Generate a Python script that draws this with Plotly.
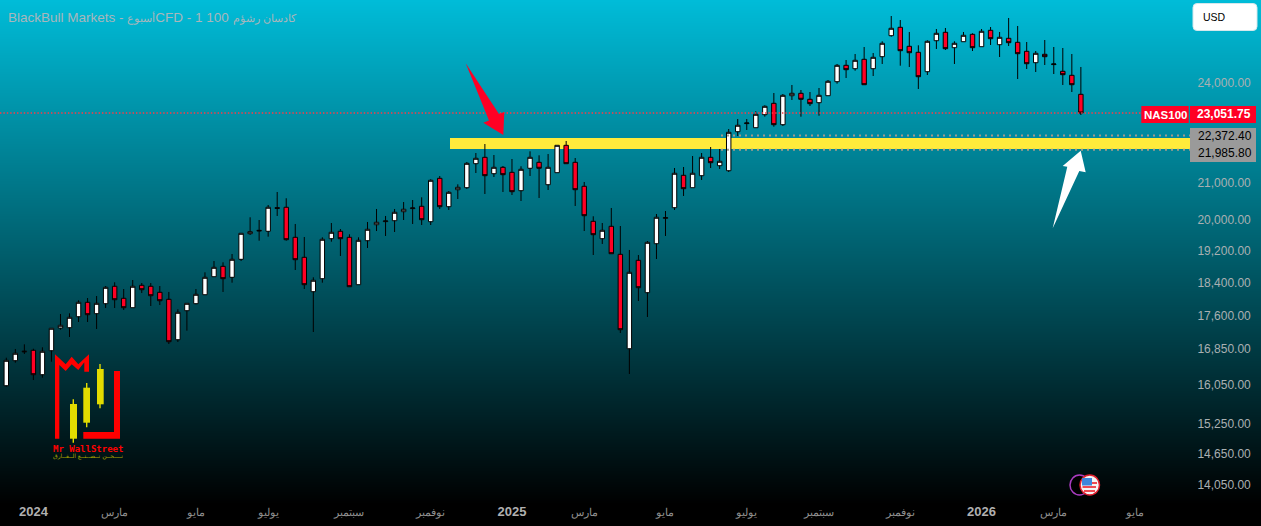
"""NAS100 weekly candles with a yellow support zone, dark teal gradient."""

import math

import numpy as np
import pandas as pd
import plotly.graph_objects as go

W, H = 1261, 526
PLOT_RIGHT, PLOT_BOTTOM = 1190, 497

opens = [
    16037, 16580, 16775, 16811, 16274, 16802, 17317, 17324, 17579, 17919, 17650, 17886, 18305, 18015, 17791, 18329, 18305, 18159, 17991, 17049,
    17720, 17886, 18101, 18540, 18798, 18525, 18974, 19632, 19702, 19695, 20323, 20334, 19538, 19025, 18174, 18491, 19502, 19695, 19538, 18344,
    19450, 19868, 19950, 19974, 20215, 20298, 20361, 19948, 21133, 20350, 20815, 20871, 21548, 21732, 21263, 21445, 21303, 20788, 21417, 21588,
    20954, 21292, 22082, 21588, 20910, 19958, 19502, 19826, 19101, 16846, 18949, 18150, 19372, 20038, 20323, 21218, 20871, 21207, 21732, 21491,
    21348, 22485, 22729, 22605, 23000, 23351, 22696, 23588, 23664, 23476, 23370, 23588, 24032, 24562, 24451, 24759, 24451, 24845, 25549, 25836,
    25191, 24991, 24354, 25379, 25665, 25144, 25346, 25596, 25178, 25733, 25245, 25460, 25325, 25024, 24647, 24924, 24585, 24367, 24237, 23632,
]
highs = [
    16646, 16840, 16945, 16846, 16878, 17310, 17642, 17659, 17967, 18022, 18070, 18312, 18403, 18239, 18459, 18385, 18385, 18312, 18167, 17753,
    17895, 18239, 18649, 18931, 18899, 19109, 19642, 20065, 19993, 20396, 20752, 20579, 19887, 19546, 18525, 19538, 19913, 19755, 19616, 19538,
    19940, 20288, 20100, 20288, 20477, 20532, 20606, 21105, 21198, 20779, 20965, 21597, 21857, 22120, 21799, 21482, 21683, 21474, 21906, 21790,
    21828, 22082, 22209, 21712, 21030, 20092, 19913, 20315, 19834, 19211, 19083, 19442, 20153, 20234, 21425, 21454, 21770, 21857, 22032, 21974,
    22566, 22868, 22868, 23104, 23289, 23673, 23642, 23927, 23768, 23705, 23831, 24086, 24605, 24736, 24934, 25167, 24967, 25359, 26227, 26088,
    25675, 25224, 25393, 25777, 25812, 25359, 25675, 25630, 25777, 25846, 25675, 26158, 25881, 25335, 25034, 25403, 25167, 25134, 24934, 24507,
]
lows = [
    16016, 16536, 16728, 16159, 16209, 16558, 17278, 17111, 17456, 17456, 17294, 17784, 17784, 17737, 17791, 18142, 17831, 17855, 16952, 16997,
    17255, 17872, 18101, 18540, 18167, 18393, 18931, 19598, 19450, 19554, 20100, 19450, 18706, 18239, 17225, 18393, 19424, 19058, 18295, 18344,
    19262, 19702, 19572, 19676, 19993, 19887, 19860, 19860, 20288, 20261, 20559, 20835, 21283, 20697, 21170, 20752, 20669, 20505, 21198, 20587,
    20807, 21292, 21548, 20369, 19702, 19083, 19365, 19116, 17202, 16289, 17950, 17572, 18982, 19572, 20261, 20642, 20871, 21086, 21425, 21397,
    21311, 22357, 22536, 22605, 22939, 22635, 22656, 23454, 22939, 23267, 22969, 23588, 23968, 24151, 24386, 23936, 24215, 24605, 25515, 24549,
    24507, 23800, 24247, 25101, 25067, 24605, 25346, 25034, 25178, 25235, 24835, 25201, 24118, 24441, 24344, 24572, 24279, 23927, 23705, 22990,
]
closes = [
    16588, 16744, 16788, 16274, 16788, 17310, 17379, 17565, 17919, 17626, 17895, 18280, 17981, 17791, 18305, 18222, 18077, 17957, 17004, 17682,
    17895, 18111, 18525, 18773, 18491, 18974, 19642, 19684, 19718, 20334, 20307, 19476, 18964, 18344, 18452, 19486, 19668, 19502, 18295, 19460,
    19747, 19932, 19966, 20199, 20280, 20315, 20001, 21077, 20350, 20743, 20882, 21559, 21703, 21207, 21445, 21235, 20760, 21388, 21732, 21417,
    21445, 22082, 21548, 20815, 20108, 19606, 19721, 19116, 17278, 18649, 18271, 19408, 20065, 20054, 21275, 20843, 21275, 21732, 21577, 21617,
    22467, 22678, 22747, 23012, 23258, 22696, 23601, 23664, 23476, 23339, 23601, 24045, 24562, 24419, 24726, 23936, 24825, 25292, 25802, 25044,
    24977, 24192, 25359, 25630, 25111, 25292, 25562, 25144, 25699, 25447, 25494, 25312, 24944, 24614, 24957, 24845, 24605, 24257, 23936, 23051.75,
]
dates = pd.date_range("2023-12-11", periods=len(opens), freq="7D")

price_ticks = [24000, 21000, 20000, 19200, 18400, 17600, 16850, 16050, 15250, 14650, 14050]
date_ticks = [
    "2024-01-01", "2024-03-04", "2024-05-06", "2024-07-01", "2024-09-02", "2024-11-04", "2025-01-06", "2025-03-03",
    "2025-05-05", "2025-07-07", "2025-09-01", "2025-11-03", "2026-01-05", "2026-03-02", "2026-05-04",
]
date_labels = [
    "2024", "مارس", "مايو", "يوليو", "سبتمبر", "نوفمبر", "2025", "مارس",
    "مايو", "يوليو", "سبتمبر", "نوفمبر", "2026", "مارس", "مايو",
]

LAST_PRICE = 23051.75
ZONE_HIGH, ZONE_LOW = 22372.40, 21985.80

AR = "<span style='font-size:11px'>{}</span>"
TITLE = "BlackBull Markets - " + AR.format("أسبوع") + "CFD - 1 100 " + AR.format("كادسان رشؤم")
RED = "#ff0024"
YELLOW = "#ffeb3b"
LOGO_YELLOW = "#e2dc00"
FONT = "Liberation Sans"


def px(x):
    return x / W


def py(y):
    return 1 - y / H


def poly(points, color, **kw):
    path = "M " + " L ".join(f"{px(x):.5f} {py(y):.5f}" for x, y in points) + " Z"
    return dict(type="path", xref="paper", yref="paper", path=path, fillcolor=color, line_width=0, **kw)


def rect(x0, y0, x1, y1, color, **kw):
    return dict(type="rect", xref="paper", yref="paper", x0=px(x0), x1=px(x1), y0=py(y0), y1=py(y1),
                fillcolor=color, line_width=0, **kw)


def label(x, y, text, color="black", size=12, anchor="center", family=FONT):
    return dict(xref="paper", yref="paper", x=px(x), y=py(y), text=text, showarrow=False, xanchor=anchor,
                yanchor="middle", font=dict(family=family, size=size, color=color))


def x_at(pixel):
    # candle 0 sits at x=6.3, 9.03 px per week
    return dates[0] + pd.Timedelta(days=(pixel - 6.3) / 9.03 * 7)


# Background: one heatmap row per pixel on its own full-figure axes
rows = np.arange(H)
background = go.Heatmap(
    z=rows.reshape(-1, 1), x=[0], y=rows, xaxis="x", yaxis="y", showscale=False, hoverinfo="skip",
    zmin=0, zmax=H - 1,
    colorscale=[[0, "#00bcd8"], [0.96, "#000000"], [1, "#000000"]],
)

candles = go.Candlestick(
    x=dates, open=opens, high=highs, low=lows, close=closes, xaxis="x2", yaxis="y2", showlegend=False,
    increasing=dict(fillcolor="#ffffff", line=dict(color="#000000", width=1)),
    decreasing=dict(fillcolor=RED, line=dict(color="#000000", width=1)),
    whiskerwidth=0,
)

fig = go.Figure(data=[background, candles])

shapes = [
    # Support zone, price labels and last price line
    dict(type="rect", xref="x2", yref="y2", x0=x_at(450), x1=x_at(PLOT_RIGHT), y0=21975, y1=22300,
         fillcolor=YELLOW, line_width=0, layer="below"),
    dict(type="line", xref="paper", yref="y2", x0=px(721), x1=px(PLOT_RIGHT), y0=ZONE_HIGH, y1=ZONE_HIGH,
         line=dict(color="#a09a8c", width=2, dash="2px,4px")),
    dict(type="line", xref="paper", yref="y2", x0=px(721), x1=px(PLOT_RIGHT), y0=21950, y1=21950,
         line=dict(color="#a09a8c", width=2, dash="2px,4px")),
    dict(type="line", xref="paper", yref="y2", x0=0, x1=px(1141), y0=LAST_PRICE, y1=LAST_PRICE,
         line=dict(color="#ff3a44", width=1.4, dash="1.4px,2px")),
    rect(1141.3, 106, 1188.7, 123, RED),
    rect(1190, 106, 1256, 123, RED),
    rect(1190, 128, 1256, 162, "#9a9a9a"),
    # Arrows
    poly([(465.7, 63.3), (499, 114), (504.3, 112), (503.3, 135), (483.3, 122.7), (489, 120.5)], RED),
    poly([(1052.7, 228.3), (1067.3, 166.7), (1062.7, 166), (1080.7, 150.7), (1085.7, 172.3), (1079.3, 171)], "#ffffff"),
    # Logo
    poly([(55, 354.3), (65.7, 364.3), (71.7, 356.7), (78.3, 364.3), (89, 354.3), (89, 371.7), (84.3, 371.7),
          (84.3, 362.3), (78.3, 370), (71.7, 364.3), (65.7, 371), (59.3, 365), (59.3, 438.7), (55, 438.7)], "#ff0000"),
    poly([(114, 371), (120, 371), (120, 438.7), (83.3, 438.7), (83.3, 432), (114, 432)], "#ff0000"),
    rect(72.6, 399.3, 74, 442.7, LOGO_YELLOW), rect(70, 404, 77, 438.7, LOGO_YELLOW),
    rect(86, 383, 87.4, 427.3, LOGO_YELLOW), rect(83.3, 387.7, 90, 422.7, LOGO_YELLOW),
    rect(99.3, 364, 100.7, 408.3, LOGO_YELLOW), rect(97, 369, 103.7, 404.3, LOGO_YELLOW),
    # Event icons
    dict(type="circle", xref="paper", yref="paper", x0=px(1070), x1=px(1089), y0=py(475), y1=py(495),
         line=dict(color="#a93cc0", width=1.5), fillcolor="#000000"),
    dict(type="circle", xref="paper", yref="paper", x0=px(1080), x1=px(1099.5), y0=py(475), y1=py(495),
         line=dict(color="#e0202e", width=1.5), fillcolor="#f4f4f4"),
    rect(1082.5, 486, 1096, 488, "#ee4a52"),
    rect(1084, 490, 1095, 492, "#ee4a52"),
    rect(1090, 482, 1097, 484, "#ee4a52"),
    rect(1082, 478, 1092, 485.5, "#3d86dc"),
]

annotations = [
    label(6, 18, TITLE, color="#a9b6bb", size=13.5, anchor="left"),
    label(1165, 114.7, "<b>NAS100</b>", color="#ffffff", size=11.5),
    label(1224, 114.2, "<b>23,051.75</b>", color="#ffffff", size=12),
    label(1224.5, 136, "22,372.40", size=12),
    label(1224.5, 152.6, "21,985.80", size=12),
    label(1200.5, 17, "USD", size=10.5, anchor="left"),
    label(87.5, 449, "<b>Mr WallStreet</b>", color="#ff0000", size=9, family="DejaVu Sans Mono"),
    label(87.5, 456.3, "نــــحــن نــصــنــع الــفــارق", color="#a8a400", size=6, family="DejaVu Sans"),
]

# USD button, a rounded rectangle
r = 4
x0, x1, y0, y1 = 1193, 1257, 3.5, 30.5
shapes.append(dict(
    type="path", xref="paper", yref="paper", fillcolor="#ffffff", line=dict(color="#d4e8ec", width=1),
    path=(f"M {px(x0 + r)} {py(y0)} L {px(x1 - r)} {py(y0)} Q {px(x1)} {py(y0)} {px(x1)} {py(y0 + r)} "
          f"L {px(x1)} {py(y1 - r)} Q {px(x1)} {py(y1)} {px(x1 - r)} {py(y1)} "
          f"L {px(x0 + r)} {py(y1)} Q {px(x0)} {py(y1)} {px(x0)} {py(y1 - r)} "
          f"L {px(x0)} {py(y0 + r)} Q {px(x0)} {py(y0)} {px(x0 + r)} {py(y0)} Z"),
))

# Pixel spans of the price axis: 24,000 at y=82.7, 751.6 px per unit of ln(price)
y_top = math.log10(24000) + 82.7 / 751.6 / math.log(10)
y_bottom = math.log10(24000) - (PLOT_BOTTOM - 82.7) / 751.6 / math.log(10)

fig.update_layout(
    width=W,
    height=H,
    margin=dict(l=0, r=0, t=0, b=0),
    paper_bgcolor="#000000",
    plot_bgcolor="rgba(0,0,0,0)",
    showlegend=False,
    hovermode=False,
    xaxis=dict(domain=[0, 1], range=[-0.5, 0.5], visible=False, fixedrange=True),
    yaxis=dict(domain=[0, 1], range=[H - 0.5, -0.5], visible=False, fixedrange=True),
    xaxis2=dict(
        domain=[0, PLOT_RIGHT / W], anchor="y2", type="date", range=[x_at(0), x_at(PLOT_RIGHT)],
        rangeslider=dict(visible=False), showgrid=False, zeroline=False, showline=False,
        tickmode="array", tickvals=date_ticks,
        ticktext=[f"<b><span style='color:#b0b0b0;font-size:13px'>{t}</span></b>" if t.isdigit() else t for t in date_labels],
        ticks="outside", ticklen=5, tickcolor="rgba(0,0,0,0)",
        tickfont=dict(family=FONT, size=11, color="#8f8f8f"),
    ),
    yaxis2=dict(
        domain=[1 - PLOT_BOTTOM / H, 1], anchor="x2", side="right", type="log", range=[y_bottom, y_top],
        showgrid=False, zeroline=False, showline=False,
        tickmode="array", tickvals=price_ticks, ticktext=[f"{v:,.2f}" for v in price_ticks],
        ticks="outside", ticklen=4, tickcolor="rgba(0,0,0,0)",
        tickfont=dict(family=FONT, size=12, color="#aab0b2"),
    ),
    shapes=shapes,
    annotations=annotations,
)

# The page margin would push the figure 8 px off the window corner
fig.write_html(
    "out.html",
    config={"displayModeBar": False},
    post_script="document.body.style.margin='0';document.body.style.overflow='hidden';",
)
